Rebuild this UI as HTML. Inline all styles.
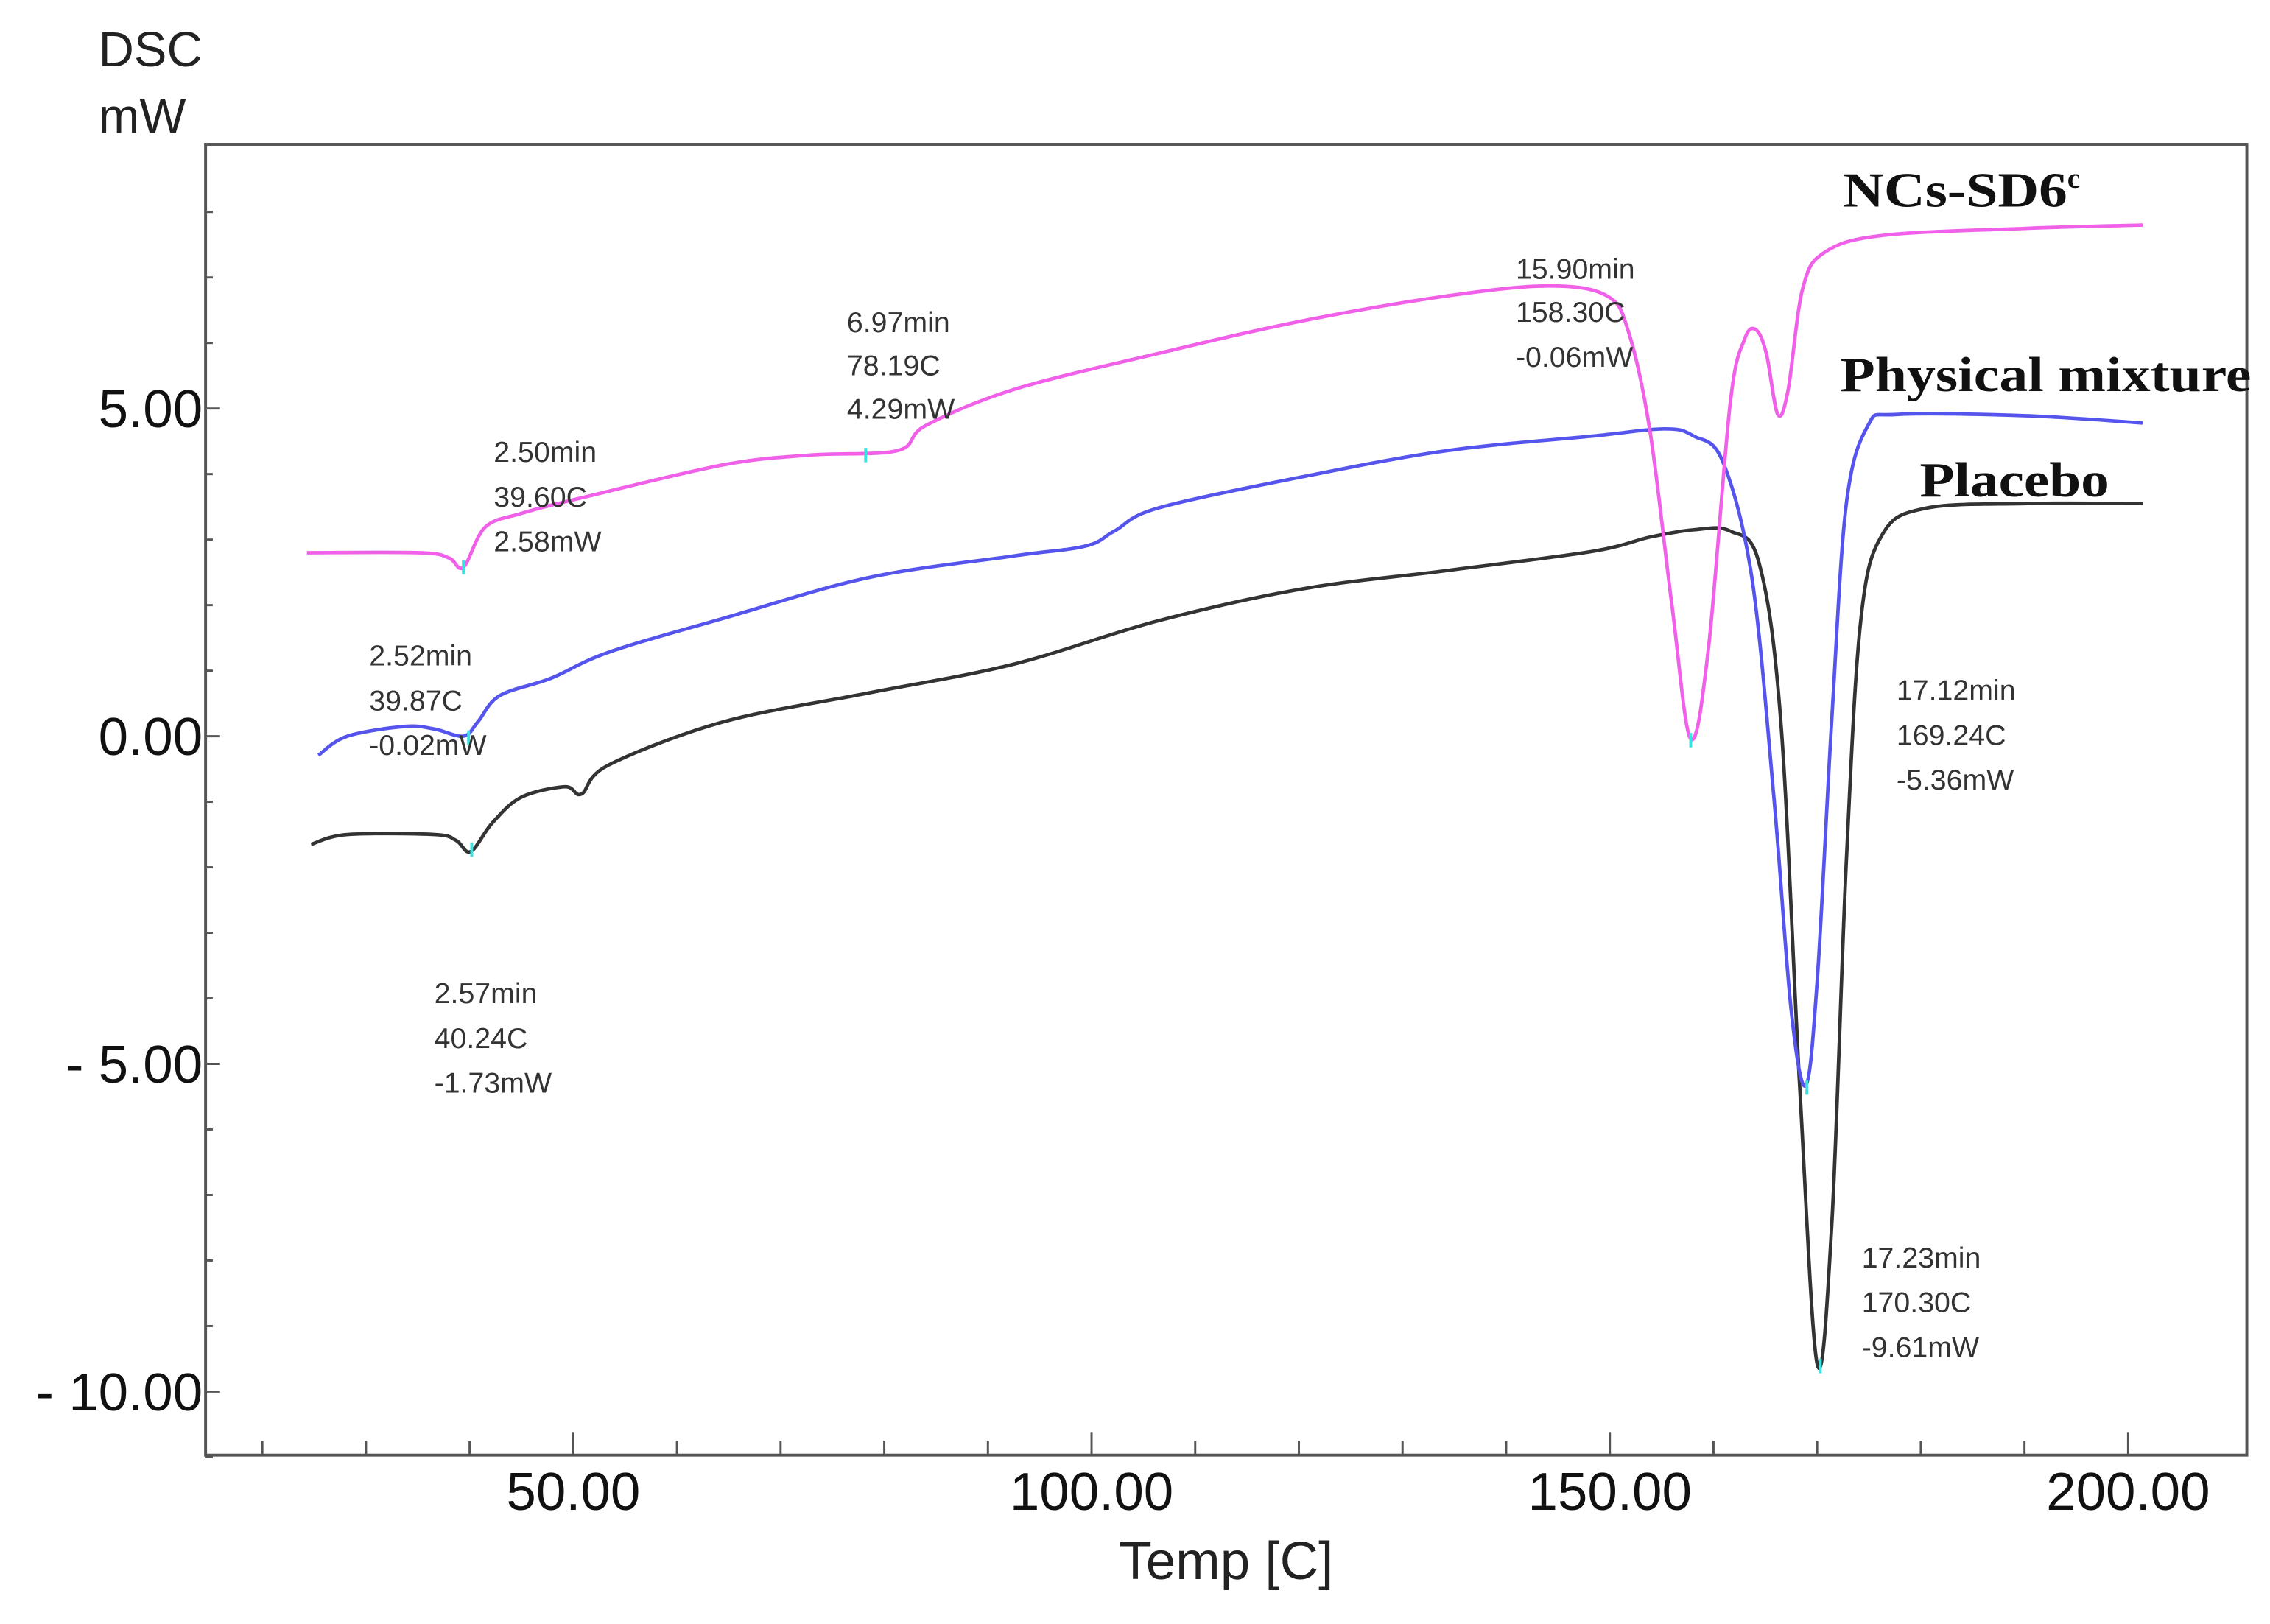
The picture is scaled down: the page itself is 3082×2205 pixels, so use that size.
<!DOCTYPE html>
<html><head><meta charset="utf-8"><style>
html,body{margin:0;padding:0;background:#fff;}
svg{display:block;}
text{font-family:"Liberation Sans",sans-serif;}
.ann{font-size:20px;fill:#333;}
.tick{font-size:37px;fill:#111;}
.leg{font-family:"Liberation Serif",serif;font-weight:bold;font-size:34px;fill:#111;}
</style></head><body>
<svg id="chart" width="3082" height="2205" viewBox="0 0 1568 1125" preserveAspectRatio="none" xmlns="http://www.w3.org/2000/svg">
<rect x="142" y="100" width="1410" height="908" fill="none" stroke="#555" stroke-width="2"/>
<g id="ticks"></g>
<text x="68" y="46" style="font-size:34px" fill="#222">DSC</text>
<text x="68" y="92" style="font-size:34px" fill="#222">mW</text>
<text x="847" y="1094" text-anchor="middle" style="font-size:37px" fill="#222">Temp  [C]</text>
<g id="series"></g>
<text class="leg" x="1273" y="143"><tspan textLength="155" lengthAdjust="spacingAndGlyphs">NCs-SD6</tspan><tspan font-size="20" dy="-13">c</tspan></text>
<text class="leg" x="1271" y="271" textLength="284" lengthAdjust="spacingAndGlyphs">Physical mixture</text>
<text class="leg" x="1326" y="344" textLength="131" lengthAdjust="spacingAndGlyphs">Placebo</text>
<g class="ann"><text x="341" y="320">2.50min</text><text x="341" y="351">39.60C</text><text x="341" y="382">2.58mW</text></g>
<g class="ann"><text x="585" y="230">6.97min</text><text x="585" y="260">78.19C</text><text x="585" y="290">4.29mW</text></g>
<g class="ann"><text x="1047" y="193">15.90min</text><text x="1047" y="223">158.30C</text><text x="1047" y="254">-0.06mW</text></g>
<g class="ann"><text x="255" y="461">2.52min</text><text x="255" y="492">39.87C</text><text x="255" y="523">-0.02mW</text></g>
<g class="ann"><text x="1310" y="485">17.12min</text><text x="1310" y="516">169.24C</text><text x="1310" y="547">-5.36mW</text></g>
<g class="ann"><text x="300" y="695">2.57min</text><text x="300" y="726">40.24C</text><text x="300" y="757">-1.73mW</text></g>
<g class="ann"><text x="1286" y="878">17.23min</text><text x="1286" y="909">170.30C</text><text x="1286" y="940">-9.61mW</text></g>
</svg>
<script>
const xTickValues=[50,100,150,200];
const xTickLabels=["50.00","100.00","150.00","200.00"];
const yTickValues=[5,0,-5,-10];
const yTickLabels=["5.00","0.00","- 5.00","- 10.00"];
const pinkT=[24.3,35.2,38,39.4,41.5,45,50.6,64.5,72.9,81.3,84,92.5,106.4,120.4,134.4,144.1,149.7,151.8,153.9,156,157.8,159.5,161.6,163,164.1,165.1,166.2,167.2,168.6,170.7,176.3,190.2,201.4];
const pinkW=[2.8,2.8,2.72,2.58,3.19,3.4,3.63,4.14,4.29,4.36,4.74,5.29,5.84,6.34,6.72,6.87,6.72,6.17,4.63,1.98,-0.04,1.32,5.07,6.06,6.2,5.84,4.91,5.29,6.83,7.38,7.64,7.75,7.8];
const blueT=[25.4,28.2,33.8,36.6,39.4,40.8,42.9,47.8,53.4,64.5,78.5,92.5,99.4,102.2,106.4,120.4,134.4,148.3,155.3,158.1,160.9,163.7,165.8,167.5,168.9,170,171.4,172.8,174.9,177.7,190.2,201.4];
const blueW=[-0.29,0,0.15,0.11,0,0.22,0.62,0.88,1.28,1.8,2.42,2.75,2.9,3.13,3.48,3.96,4.36,4.58,4.69,4.58,4.19,2.42,-0.88,-4.19,-5.33,-3.74,0.22,3.52,4.74,4.91,4.89,4.78];
const blackT=[24.7,28.2,36.6,38.7,40.1,42.2,45,49.2,50.8,53.4,64.5,78.5,92.5,106.4,120.4,134.4,148.3,153.9,158.1,161.6,164.4,166.5,168.3,170,171.4,172.8,174.2,176.3,180.5,190.2,201.4];
const blackW=[-1.65,-1.5,-1.5,-1.59,-1.76,-1.32,-0.93,-0.77,-0.88,-0.44,0.22,0.66,1.1,1.76,2.25,2.53,2.82,3.04,3.15,3.13,2.64,0.22,-5.29,-9.58,-7.49,-1.98,1.76,3.08,3.48,3.55,3.55];
const markerT=[39.4,78.2,157.8,39.9,169,40.2,170.3];
const markerW=[2.58,4.29,-0.06,-0.02,-5.36,-1.73,-9.61];
function sx(t){return 396+(t-50)*7.16;}
function sy(v){return 510-v*45.4;}
const NS="http://www.w3.org/2000/svg";
const ticks=document.getElementById('ticks');
function mk(tag,attrs,parent){const e=document.createElementNS(NS,tag);for(const k in attrs)e.setAttribute(k,attrs[k]);parent.appendChild(e);return e;}
for(let t=20;t<=200;t+=10){
  const major=t%50===0;
  const l=mk('line',{x1:sx(t),x2:sx(t),y1:1008,y2:major?992:998,stroke:'#555','stroke-width':1.5},ticks);
  
  
}
for(let v=-11;v<=8;v++){
  const major=v%5===0;
  const l=mk('line',{x1:142,x2:major?152:147,y1:sy(v),y2:sy(v),stroke:'#555','stroke-width':1.5},ticks);
  
  
}
xTickValues.forEach((t,i)=>{
  const e=mk('text',{x:sx(t),y:1046,'text-anchor':'middle',class:'tick'},ticks);e.textContent=xTickLabels[i];
  
  
});
yTickValues.forEach((v,i)=>{
  const e=mk('text',{x:140,y:sy(v)+13,'text-anchor':'end',class:'tick'},ticks);e.textContent=yTickLabels[i];
  
  
});
const series=document.getElementById('series');
function line(T,W,color,name){
  const P=T.map((t,i)=>[sx(t),sy(W[i])]);
  let d='M'+P[0][0].toFixed(1)+','+P[0][1].toFixed(1);
  for(let i=0;i<P.length-1;i++){
    const p0=P[Math.max(0,i-1)],p1=P[i],p2=P[i+1],p3=P[Math.min(P.length-1,i+2)];
    const k=1/6;
    const c1=[p1[0]+(p2[0]-p0[0])*k,p1[1]+(p2[1]-p0[1])*k];
    const c2=[p2[0]-(p3[0]-p1[0])*k,p2[1]-(p3[1]-p1[1])*k];
    d+=' C'+c1[0].toFixed(1)+','+c1[1].toFixed(1)+' '+c2[0].toFixed(1)+','+c2[1].toFixed(1)+' '+p2[0].toFixed(1)+','+p2[1].toFixed(1);
  }
  const p=mk('path',{d:d,fill:'none',stroke:color,'stroke-width':2.4,'stroke-linejoin':'round'},series);
  
  
}
line(blackT,blackW,'#333','placebo-line');
line(blueT,blueW,'#5555ee','physical-mixture-line');
line(pinkT,pinkW,'#f060e8','ncs-sd6c-line');
markerT.forEach((t,i)=>{
  const m=mk('line',{x1:sx(t),x2:sx(t),y1:sy(markerW[i])-5,y2:sy(markerW[i])+5,stroke:'#40e0e0','stroke-width':2},series);
  
  
});
</script>
</body></html>
